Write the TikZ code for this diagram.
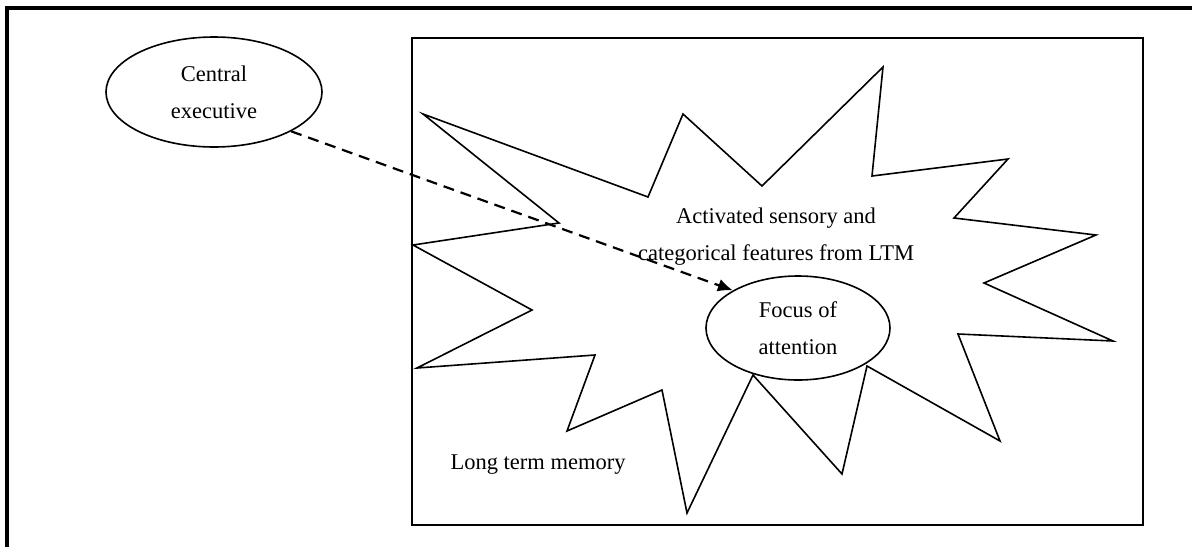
\documentclass[tikz,border=0pt]{standalone}
\usepackage{fontspec}
\setmainfont{Liberation Serif}
\usetikzlibrary{shapes.geometric,arrows.meta}
\tikzset{
  bubble/.style={ellipse, draw, line width=1.6pt, fill=white, inner sep=0pt, align=center},
  txt/.style={align=center, inner sep=0pt}
}
\begin{document}
\begin{tikzpicture}[x=1pt,y=-1pt,font=\fontsize{22.5}{37}\selectfont]
	\useasboundingbox (0,0) rectangle (1192,547);
	\draw[line width=3.2pt] (7,547) -- (7,8) -- (1192,8);
	\draw[line width=1.8pt] (412,38) rectangle (1143,525);
	% starburst of activated features
	\draw[line width=1.6pt, line join=miter] (423,114) -- (648,197) -- (683,114) -- (762,186) -- (883,67) -- (872,176)
		-- (1008,159) -- (954,218) -- (1096,235) -- (984,283) -- (1113,341) -- (958,334) -- (1000,441)
		-- (867,366) -- (842,474) -- (753,375) -- (687,513) -- (662,390) -- (567,431) -- (595,355)
		-- (417,368) -- (532,310) -- (413,245) -- (559,223) -- cycle;
	\node[bubble, minimum width=216pt, minimum height=110pt] (cex) at (214,92) {Central\\executive};
	\node[bubble, minimum width=184pt, minimum height=104pt] (foc) at (798,328) {Focus of\\attention};
	\node[txt] (act) at (776,237) {Activated sensory and\\categorical features from LTM};
	\node[txt] (ltm) at (538,465) {Long term memory};
	\draw[line width=2.2pt, dash pattern=on 11pt off 7pt, -{Latex[length=15pt,width=13pt]}] (cex.-27) -- (foc.150);
\end{tikzpicture}
\end{document}
